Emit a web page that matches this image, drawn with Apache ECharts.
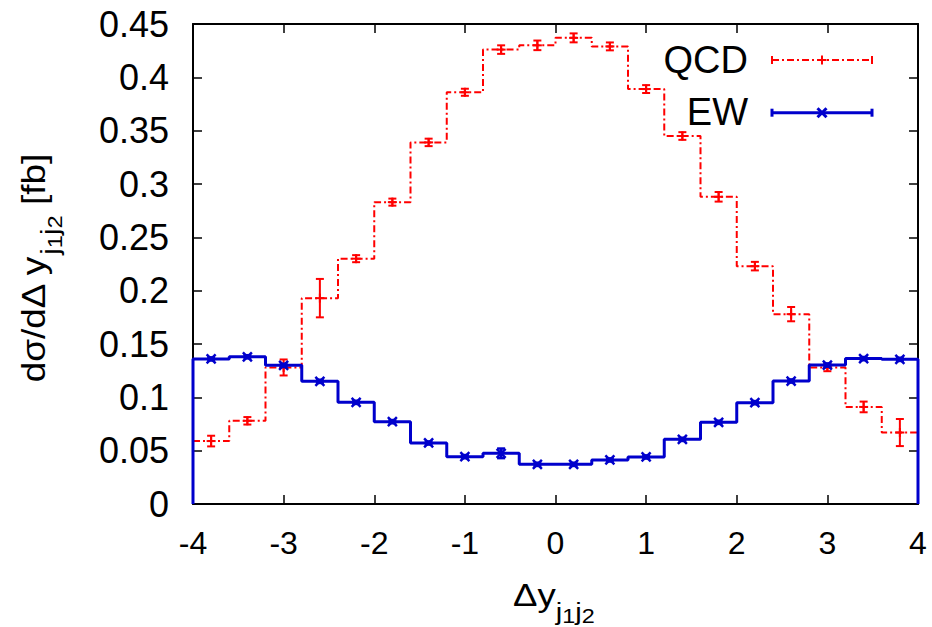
<!DOCTYPE html>
<html>
<head>
<meta charset="utf-8">
<script src="https://cdn.jsdelivr.net/npm/echarts@6/dist/echarts.min.js"></script>
<style>
  html, body { margin: 0; padding: 0; background: #fff; }
  #chart { width: 932px; height: 627px; }
</style>
</head>
<body>
<div id="chart"></div>
<script>
// Rapidity-difference bins (edges) of the tagging jets
const binEdges = [-4.0, -3.6, -3.2, -2.8, -2.4, -2.0, -1.6, -1.2, -0.8, -0.4, 0.0,
                  0.4, 0.8, 1.2, 1.6, 2.0, 2.4, 2.8, 3.2, 3.6, 4.0];

// dσ/dΔy [fb] per bin, with statistical uncertainties
const qcdValues = [0.059, 0.078, 0.128, 0.193, 0.230, 0.283, 0.339, 0.386, 0.426, 0.430,
                   0.437, 0.429, 0.389, 0.345, 0.288, 0.223, 0.178, 0.128, 0.091, 0.067];
const qcdErrors = [0.005, 0.0035, 0.0075, 0.018, 0.0033, 0.0033, 0.0035, 0.0033, 0.004, 0.0045,
                   0.0042, 0.0037, 0.0037, 0.0036, 0.0045, 0.004, 0.0067, 0.0035, 0.005, 0.0127];
const ewValues  = [0.136, 0.138, 0.130, 0.115, 0.0953, 0.0772, 0.0572, 0.0444, 0.0475, 0.0372,
                   0.0372, 0.0413, 0.0441, 0.0606, 0.0766, 0.095, 0.1153, 0.1303, 0.1363, 0.1356];
const ewErrors  = [0.0015, 0.0015, 0.0015, 0.0015, 0.0015, 0.0015, 0.0015, 0.0015, 0.0045, 0.0015,
                   0.0015, 0.0015, 0.0015, 0.0015, 0.0015, 0.0015, 0.0015, 0.0015, 0.0015, 0.0015];

// Axis ticks
const xTicks = [-4, -3, -2, -1, 0, 1, 2, 3, 4];
const yTicks = [0, 0.05, 0.1, 0.15, 0.2, 0.25, 0.3, 0.35, 0.4, 0.45];

const seriesNames = ['QCD', 'EW'];

const FONT = "'Liberation Sans', Arial, Helvetica, sans-serif";
const RED = '#ff0000';
const BLUE = '#0000cc';

const binCenters = qcdValues.map((_, i) => (binEdges[i] + binEdges[i + 1]) / 2);

// Histogram outline as a stepped polyline through the bin edges
function stepData(values, closed) {
  const last = binEdges.length - 1;
  const d = [];
  if (closed) d.push([binEdges[0], 0]);
  values.forEach((v, i) => d.push([binEdges[i], v]));
  d.push([binEdges[last], values[values.length - 1]]);
  if (closed) d.push([binEdges[last], 0]);
  return d;
}

// Error bar with caps plus a point marker ('plus' or 'cross')
function errorBarRenderer(marker, color, width) {
  return function (params, api) {
    const x = api.value(0), y = api.value(1), e = api.value(2);
    const c = api.coord([x, y]);
    const lo = api.coord([x, y - e]);
    const hi = api.coord([x, y + e]);
    const cap = 4, m = 4.5;
    const st = { stroke: color, lineWidth: width };
    const kids = [
      { type: 'line', shape: { x1: c[0], y1: lo[1], x2: c[0], y2: hi[1] }, style: st },
      { type: 'line', shape: { x1: c[0] - cap, y1: lo[1], x2: c[0] + cap, y2: lo[1] }, style: st },
      { type: 'line', shape: { x1: c[0] - cap, y1: hi[1], x2: c[0] + cap, y2: hi[1] }, style: st }
    ];
    if (marker === 'plus') {
      kids.push({ type: 'line', shape: { x1: c[0] - m, y1: c[1], x2: c[0] + m, y2: c[1] }, style: st });
      kids.push({ type: 'line', shape: { x1: c[0], y1: c[1] - m, x2: c[0], y2: c[1] + m }, style: st });
    } else {
      kids.push({ type: 'line', shape: { x1: c[0] - m, y1: c[1] - m, x2: c[0] + m, y2: c[1] + m }, style: st });
      kids.push({ type: 'line', shape: { x1: c[0] - m, y1: c[1] + m, x2: c[0] + m, y2: c[1] - m }, style: st });
    }
    return { type: 'group', children: kids };
  };
}

// Text with sub/sub-subscripts laid out piece by piece; (cx, cy) is the
// centre of the main baseline, stretch widens the glyphs along the line
const measureCtx = document.createElement('canvas').getContext('2d');
function textWidth(t, size) {
  measureCtx.font = size + 'px ' + FONT;
  return measureCtx.measureText(t).width;
}
function mathText(pieces, cx, cy, rotation, stretch) {
  const total = pieces.reduce((s, p) => s + textWidth(p.t, p.size), 0);
  let x = -total / 2;
  const children = pieces.map(p => {
    const el = {
      type: 'text', x: x, y: (p.dy || 0) - 0.31 * p.size,
      style: { text: p.t, font: p.size + 'px ' + FONT, fill: '#000',
               align: 'left', verticalAlign: 'middle' }
    };
    x += textWidth(p.t, p.size);
    return el;
  });
  return { type: 'group', x: cx, y: cy, rotation: rotation || 0,
           scaleX: stretch || 1, children: children, silent: true };
}

// Legend sample: line with end caps and a centered marker
function legendSample(x1, x2, y, color, width, dash, marker) {
  const st = { stroke: color, lineWidth: width };
  const xm = (x1 + x2) / 2, cap = 4, m = 4.5;
  const kids = [
    { type: 'line', shape: { x1: x1, y1: y, x2: x2, y2: y }, style: Object.assign({ lineDash: dash }, st) },
    { type: 'line', shape: { x1: x1, y1: y - cap, x2: x1, y2: y + cap }, style: st },
    { type: 'line', shape: { x1: x2, y1: y - cap, x2: x2, y2: y + cap }, style: st }
  ];
  if (marker === 'plus') {
    kids.push({ type: 'line', shape: { x1: xm - m, y1: y, x2: xm + m, y2: y }, style: st });
    kids.push({ type: 'line', shape: { x1: xm, y1: y - m, x2: xm, y2: y + m }, style: st });
  } else {
    kids.push({ type: 'line', shape: { x1: xm - m, y1: y - m, x2: xm + m, y2: y + m }, style: st });
    kids.push({ type: 'line', shape: { x1: xm - m, y1: y + m, x2: xm + m, y2: y - m }, style: st });
  }
  return { type: 'group', children: kids, silent: true };
}

function subscriptPieces(head, tail, S) {
  const p = [
    { t: head, size: S },
    { t: 'j', size: S * 0.8, dy: S * 0.45 },
    { t: '1', size: S * 0.64, dy: S * 0.55 },
    { t: 'j', size: S * 0.8, dy: S * 0.45 },
    { t: '2', size: S * 0.64, dy: S * 0.55 }
  ];
  if (tail) p.push({ t: tail, size: S });
  return p;
}

const yTitle = mathText(subscriptPieces('d\u03c3/d\u0394 y', ' [fb]', 33), 43, 268, Math.PI / 2, 1.12);
const xTitle = mathText(subscriptPieces('\u0394y', null, 31), 554, 605, 0, 1.18);

const axisLineStyle = { color: '#000', width: 2 };
const tickStyle = { show: true, inside: true, length: 9, lineStyle: { color: '#000', width: 1.5 } };

const xStep = xTicks[1] - xTicks[0];
const yStep = yTicks[1] - yTicks[0];

const chart = echarts.init(document.getElementById('chart'), null, { renderer: 'svg' });
chart.setOption({
  animation: false,
  backgroundColor: '#fff',
  grid: { left: 193, right: 14, top: 24, bottom: 123 },
  xAxis: [
    { type: 'value', min: xTicks[0], max: xTicks[xTicks.length - 1], interval: xStep,
      axisLine: { onZero: false, lineStyle: axisLineStyle }, axisTick: tickStyle,
      splitLine: { show: false },
      axisLabel: { color: '#000', fontFamily: FONT, fontSize: 32, margin: 23 } },
    { type: 'value', position: 'top', min: xTicks[0], max: xTicks[xTicks.length - 1], interval: xStep,
      axisLine: { onZero: false, lineStyle: axisLineStyle }, axisTick: tickStyle,
      splitLine: { show: false }, axisLabel: { show: false } }
  ],
  yAxis: [
    { type: 'value', min: yTicks[0], max: yTicks[yTicks.length - 1], interval: yStep,
      axisLine: { show: true, onZero: false, lineStyle: axisLineStyle }, axisTick: tickStyle,
      splitLine: { show: false },
      axisLabel: { color: '#000', fontFamily: FONT, fontSize: 36, margin: 24 } },
    { type: 'value', position: 'right', min: yTicks[0], max: yTicks[yTicks.length - 1], interval: yStep,
      axisLine: { show: true, onZero: false, lineStyle: axisLineStyle }, axisTick: tickStyle,
      splitLine: { show: false }, axisLabel: { show: false } }
  ],
  series: [
    { name: seriesNames[0], type: 'line', step: 'end', data: stepData(qcdValues, false),
      showSymbol: false, silent: true, z: 2,
      lineStyle: { color: RED, width: 2, type: [7, 3, 2, 3] } },
    { name: seriesNames[0], type: 'custom', silent: true, z: 3, clip: false,
      data: binCenters.map((c, i) => [c, qcdValues[i], qcdErrors[i]]),
      renderItem: errorBarRenderer('plus', RED, 2) },
    { name: seriesNames[1], type: 'line', step: 'end', data: stepData(ewValues, true),
      showSymbol: false, silent: true, z: 4,
      lineStyle: { color: BLUE, width: 3 } },
    { name: seriesNames[1], type: 'custom', silent: true, z: 5, clip: false,
      data: binCenters.map((c, i) => [c, ewValues[i], ewErrors[i]]),
      renderItem: errorBarRenderer('cross', BLUE, 2.5) }
  ],
  graphic: [
    yTitle,
    xTitle,
    { type: 'text', x: 748, y: 60, silent: true,
      style: { text: seriesNames[0], font: '38px ' + FONT, fill: '#000', align: 'right', verticalAlign: 'middle' } },
    { type: 'text', x: 748, y: 111.5, silent: true,
      style: { text: seriesNames[1], font: '38px ' + FONT, fill: '#000', align: 'right', verticalAlign: 'middle' } },
    legendSample(772, 872, 60, RED, 2, [7, 3, 2, 3], 'plus'),
    legendSample(772, 872, 112.7, BLUE, 3, null, 'cross')
  ]
});
</script>
</body>
</html>
